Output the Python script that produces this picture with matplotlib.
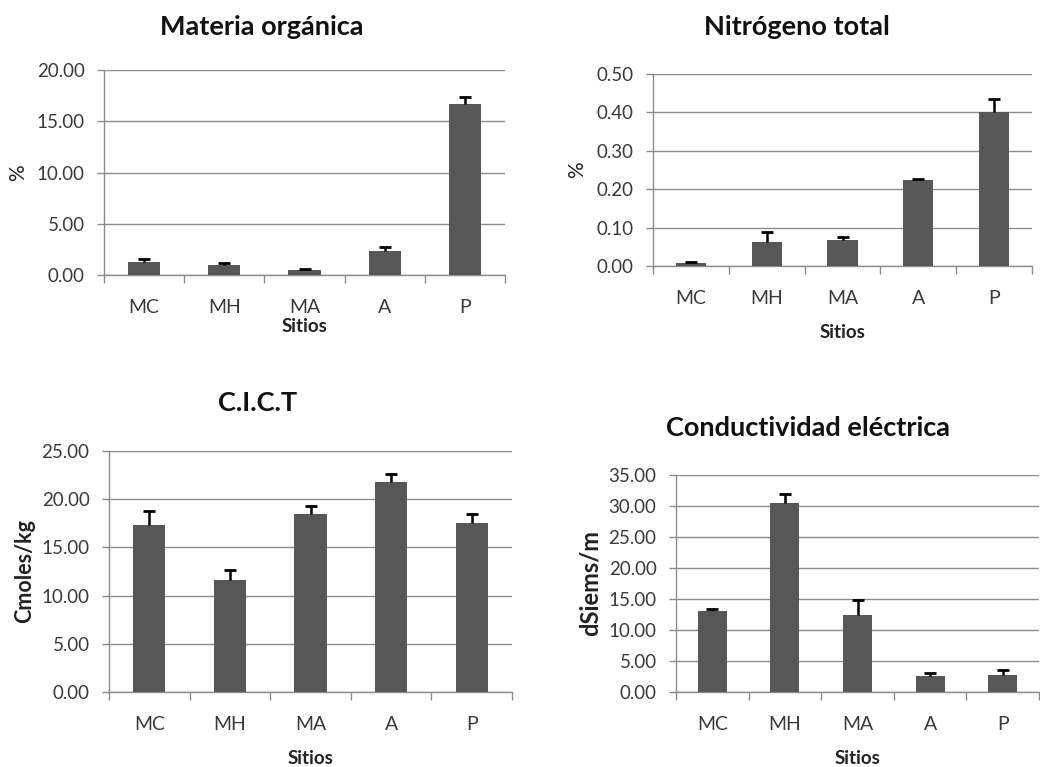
import matplotlib
matplotlib.use("Agg")
import matplotlib.pyplot as plt
from matplotlib.ticker import FixedLocator, FormatStrFormatter

plt.rcParams['font.family'] = ['Lato', 'DejaVu Sans']

sitios = ['MC', 'MH', 'MA', 'A', 'P']

# Materia orgánica (%)
mo = [1.3, 1.0, 0.5, 2.3, 16.7]
mo_err = [0.3, 0.15, 0.1, 0.45, 0.65]

# Nitrógeno total (%)
nt = [0.008, 0.062, 0.068, 0.223, 0.402]
nt_err = [0.002, 0.026, 0.007, 0.004, 0.034]

# C.I.C.T (Cmoles/kg)
cict = [17.3, 11.6, 18.5, 21.8, 17.5]
cict_err = [1.5, 1.1, 0.8, 0.85, 1.0]

# Conductividad eléctrica (dSiems/m)
ce = [13.05, 30.5, 12.4, 2.6, 2.75]
ce_err = [0.4, 1.5, 2.4, 0.4, 0.85]

W, H = 1040, 767
fig = plt.figure(figsize=(W / 100, H / 100), dpi=100)

bar_color = '#575757'
grid_color = '#8c8c8c'
txt_color = '#3a3a3a'


def panel(box, vals, errs, ymax, ystep, title, title_xy, ylabel, ylab_x, ylab_size, ylab_bold, xlab_y):
    l, r, t, b = box
    ax = fig.add_axes([l / W, 1 - b / H, (r - l) / W, (b - t) / H])
    x = list(range(len(sitios)))
    ax.bar(x, vals, width=0.4, color=bar_color, zorder=3)
    eb = ax.errorbar(x, vals, yerr=[[0] * len(errs), errs], fmt='none', ecolor='black',
                     elinewidth=1.8, capsize=4.5, capthick=2, zorder=4)
    # only the upper cap, like the plus-direction error bars of the original
    eb[1][0].set_visible(False)
    ax.set_xlim(-0.5, len(sitios) - 0.5)
    ax.set_ylim(0, ymax)
    n = int(round(ymax / ystep))
    ax.yaxis.set_major_locator(FixedLocator([i * ystep for i in range(n + 1)]))
    ax.yaxis.set_major_formatter(FormatStrFormatter('%.2f'))
    ax.set_xticks(x)
    ax.set_xticklabels(sitios)
    ax.xaxis.set_minor_locator(FixedLocator([i - 0.5 for i in range(len(sitios) + 1)]))
    ax.tick_params(axis='x', which='major', length=0, pad=17, labelsize=14, labelcolor=txt_color)
    ax.tick_params(axis='x', which='minor', length=6, direction='out', color=grid_color, width=1)
    ax.tick_params(axis='y', length=5, direction='out', color=grid_color, width=1,
                   labelsize=13.5, labelcolor=txt_color, pad=9)
    ax.grid(axis='y', color=grid_color, linewidth=1, zorder=0)
    for s in ['top', 'right']:
        ax.spines[s].set_visible(False)
    for s in ['left', 'bottom']:
        ax.spines[s].set_color(grid_color)
        ax.spines[s].set_linewidth(1)
    ax.set_xlabel('Sitios', fontsize=13.5, fontweight='bold', color='#222222', va='center')
    ax.xaxis.set_label_coords(0.5, (b - xlab_y) / (b - t))
    ax.set_ylabel(ylabel, fontsize=ylab_size,
                  fontweight='bold' if ylab_bold else 'normal', color='#222222', va='center')
    ax.yaxis.set_label_coords((ylab_x - l) / (r - l), 0.5)
    fig.text(title_xy[0] / W, 1 - title_xy[1] / H, title, ha='center', va='center',
             fontsize=19.5, fontweight='bold', color='#111111')
    return ax


panel((104, 505, 70, 275), mo, mo_err, 20, 5, 'Materia orgánica', (262, 27), '%', 18, 15, False, 327)
panel((653, 1032, 74, 266), nt, nt_err, 0.5, 0.1, 'Nitrógeno total', (797, 27), '%', 577, 15, False, 332)
panel((109, 512, 451, 692), cict, cict_err, 25, 5, 'C.I.C.T', (258, 403), 'Cmoles/kg', 25, 15.5, True, 758)
panel((676, 1039, 475, 692), ce, ce_err, 35, 5, 'Conductividad eléctrica', (808, 428), 'dSiems/m', 590, 17, True, 758)

fig.savefig('out.png', dpi=100, facecolor='white')
